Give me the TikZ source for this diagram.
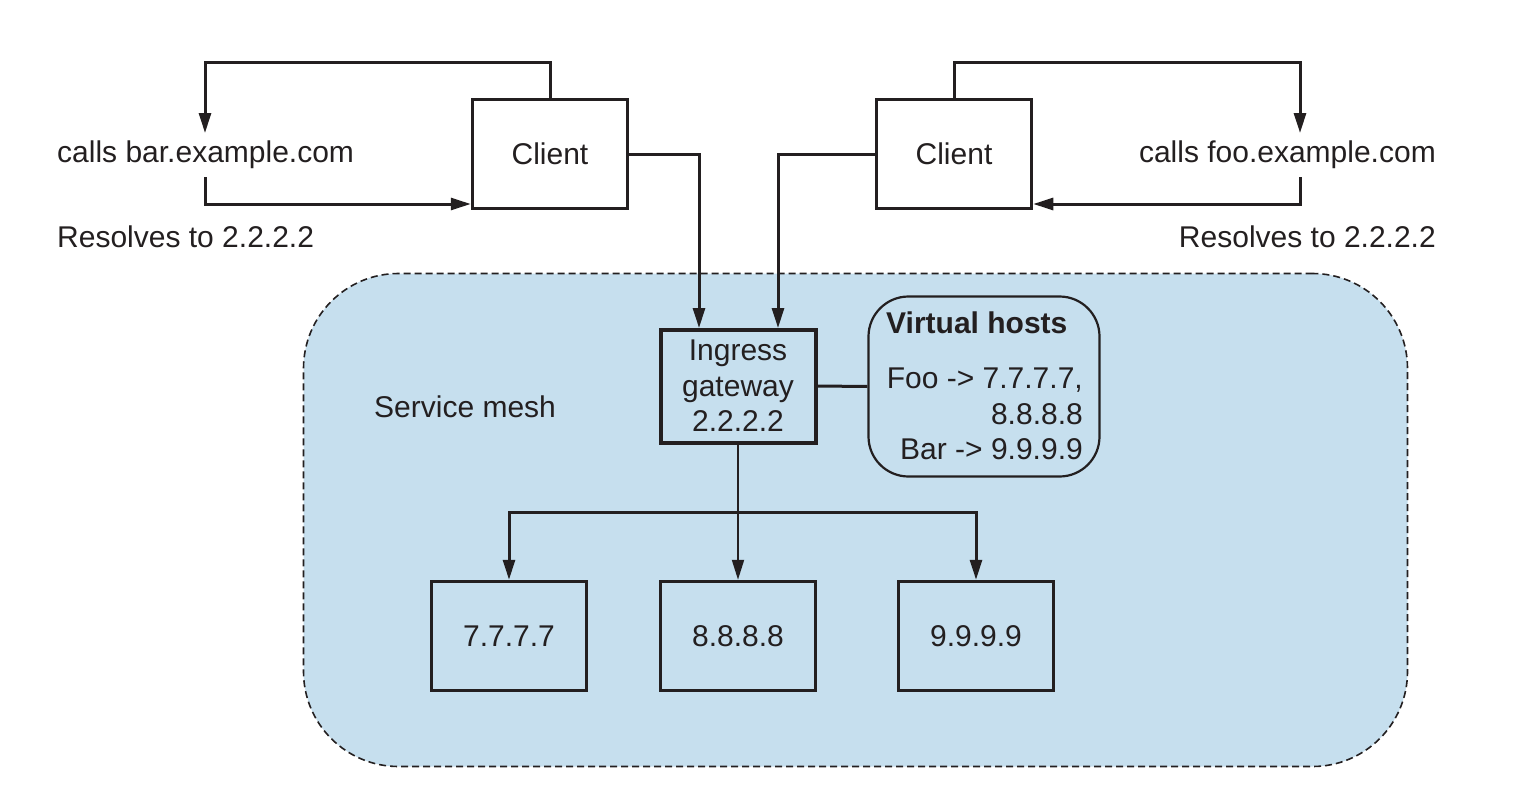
\documentclass[tikz,border=0pt]{standalone}
\usepackage{fontspec}
\setmainfont{Liberation Sans}
\usetikzlibrary{arrows.meta}
\definecolor{ink}{HTML}{231F20}
\definecolor{meshblue}{HTML}{C6DFEE}
\begin{document}
\begin{tikzpicture}[x=1pt,y=-1pt,
  txt/.style={font=\fontsize{30}{35.5}\selectfont, text=ink, inner sep=0pt},
  box/.style={draw=ink, line width=3.5pt, minimum width=155pt, minimum height=109pt, inner sep=0pt, text=ink, font=\fontsize{30}{35.5}\selectfont},
  arr/.style={draw=ink, line width=3pt, -{Triangle[length=20pt,width=12pt]}},
  plain/.style={draw=ink, line width=3pt},
  meshbox/.style={draw=ink, fill=meshblue, line width=1.6pt, dash pattern=on 7pt off 4pt, rounded corners=95pt, minimum width=1104pt, minimum height=493pt, inner sep=0pt},
  vbox/.style={draw=ink, line width=2.2pt, rounded corners=40pt, minimum width=231pt, minimum height=180pt, inner sep=0pt}
]
\useasboundingbox (0,0) rectangle (1534,806);

% service mesh background
\node[meshbox] (mesh) at (855.5,520) {};
\node[txt, anchor=west] (meshlabel) at (374,407) {Service mesh};

% clients
\node[box] (clientL) at (550,154) {Client};
\node[box] (clientR) at (954,154) {Client};

% labels
\node[txt, anchor=west] (callsbar) at (57,155) {calls bar.example.com};
\node[txt, anchor=west] (resL) at (57,237) {Resolves to 2.2.2.2};
\node[txt, anchor=east] (callsfoo) at (1436,155) {calls foo.example.com};
\node[txt, anchor=east] (resR) at (1436,237) {Resolves to 2.2.2.2};

% loop coordinates
\coordinate (lTop) at (205,62);
\coordinate (barIn) at (205,133);
\coordinate (barOut) at (205,177);
\coordinate (lBot) at (205,204);
\coordinate (rTop) at (1300,62);
\coordinate (fooIn) at (1300,133);
\coordinate (fooOut) at (1300,177);
\coordinate (rBot) at (1300,204);

\draw[arr] (clientL.north) |- (lTop) -- (barIn);
\draw[arr] (barOut) -- (lBot) -- (lBot -| clientL.west);
\draw[arr] (clientR.north) |- (rTop) -- (fooIn);
\draw[arr] (fooOut) -- (rBot) -- (rBot -| clientR.east);

% ingress gateway
\node[box, line width=4pt, minimum height=113pt, align=center] (ingress) at (738,386)
  {Ingress\\gateway\\2.2.2.2};

% client to ingress
\coordinate (inL) at (699,328);
\coordinate (inR) at (778,328);
\draw[arr] (clientL.east) -| (inL);
\draw[arr] (clientR.west) -| (inR);

% virtual hosts
\node[vbox] (vh) at (984,386.5) {};
\node[txt, anchor=west, font=\fontsize{30}{35.5}\selectfont\bfseries] (vhtitle) at (886,323) {Virtual hosts};
\node[txt, anchor=east, align=right] (vhbody) at (1083,414) {Foo -> 7.7.7.7,\\8.8.8.8\\Bar -> 9.9.9.9};
\draw[plain] (ingress.east) -- (vh.west);

% backends
\node[box] (b7) at (509,636) {7.7.7.7};
\node[box] (b8) at (738,636) {8.8.8.8};
\node[box] (b9) at (976,636) {9.9.9.9};

\coordinate (split) at (738,512);
\draw[arr, line width=2pt] (ingress.south) -- (b8.north);
\draw[arr] (split) -| (b7.north);
\draw[arr] (split) -| (b9.north);
\end{tikzpicture}
\end{document}
